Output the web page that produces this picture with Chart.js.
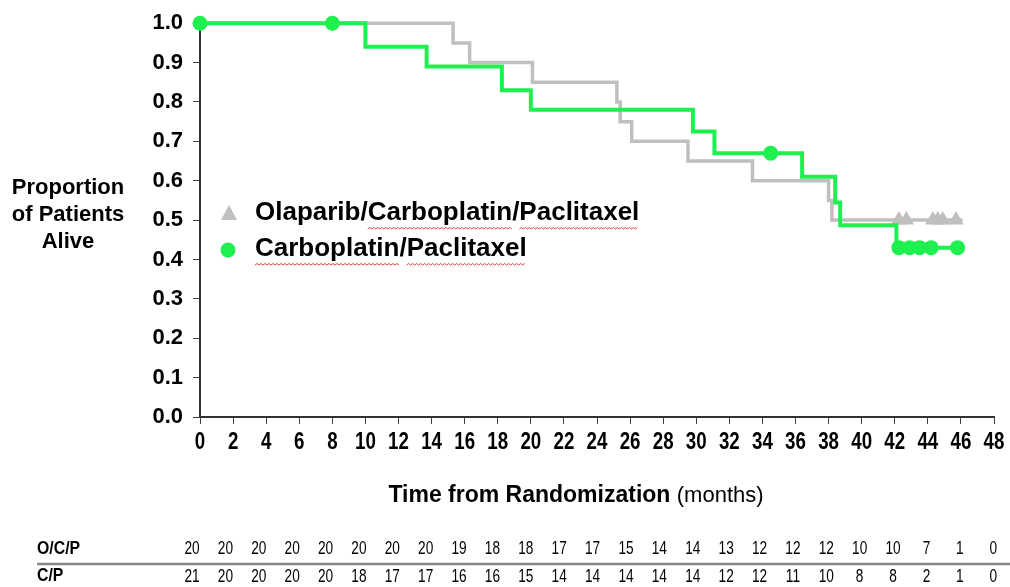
<!DOCTYPE html>
<html>
<head>
<meta charset="utf-8">
<script src="https://cdn.jsdelivr.net/npm/chart.js@4.4.1/dist/chart.umd.min.js"></script>
<style>
  html, body { margin: 0; padding: 0; background: #fff; }
  #km { display: block; }
</style>
</head>
<body>
<canvas id="km" width="1010" height="587"></canvas>
<script>
// Curvas de supervivencia (meses, proporción)
var olapTimes = [0, 15.3, 16.3, 20.1, 25.2, 25.4, 26.1, 29.5, 33.4, 38.0, 38.2, 46.1];
var olapSurv  = [1.0, 0.95, 0.90, 0.85, 0.80, 0.75, 0.70, 0.65, 0.60, 0.55, 0.50, 0.50];
var olapCensTimes = [42.25, 42.7, 44.3, 44.6, 44.9, 45.7];
var olapCensSurv  = [0.50, 0.50, 0.50, 0.50, 0.50, 0.50];

var cpTimes = [0, 10.0, 13.7, 18.25, 20.0, 29.8, 31.1, 36.4, 38.4, 38.7, 42.1, 45.8];
var cpSurv  = [1.0, 0.94, 0.89, 0.83, 0.78, 0.725, 0.67, 0.61, 0.545, 0.487, 0.43, 0.43];
var cpCensTimes = [0, 8.0, 34.5, 42.25, 42.9, 43.5, 44.2, 45.8];
var cpCensSurv  = [1.0, 1.0, 0.67, 0.43, 0.43, 0.43, 0.43, 0.43];

// Pacientes en riesgo cada 2 meses
var riskMonths = [0, 2, 4, 6, 8, 10, 12, 14, 16, 18, 20, 22, 24, 26, 28, 30, 32, 34, 36, 38, 40, 42, 44, 46, 48];
var riskOCP = [20, 20, 20, 20, 20, 20, 20, 20, 19, 18, 18, 17, 17, 15, 14, 14, 13, 12, 12, 12, 10, 10, 7, 1, 0];
var riskCP  = [21, 20, 20, 20, 20, 18, 17, 17, 16, 16, 15, 14, 14, 14, 14, 14, 12, 12, 11, 10, 8, 8, 2, 1, 0];

var legendLabels = ["Olaparib/Carboplatin/Paclitaxel", "Carboplatin/Paclitaxel"];
var yTitleLines = ["Proportion", "of Patients", "Alive"];

var GREEN = "#1EF050";
var GRAY = "#BFBFBF";
var SANS = "Arial, 'Liberation Sans', sans-serif";

function puntos(xs, ys) {
    return xs.map(function (x, i) { return { x: x, y: ys[i] }; });
}

// Texto estrecho: se comprime en horizontal
function textoEstrecho(ctx, text, x, y, sx) {
    ctx.save();
    ctx.translate(x, y);
    ctx.scale(sx, 1);
    ctx.fillText(text, 0, 0);
    ctx.restore();
}

function ondulado(ctx, x1, x2, y) {
    ctx.save();
    ctx.strokeStyle = "#E04040";
    ctx.lineWidth = 1;
    ctx.beginPath();
    ctx.moveTo(x1, y);
    var up = true;
    for (var x = x1 + 2; x <= x2; x += 2) {
        ctx.lineTo(x, up ? y - 1.5 : y);
        up = !up;
    }
    ctx.stroke();
    ctx.restore();
}

// Subraya cada palabra excepto "Olaparib"
function subrayar(ctx, text, x, y) {
    var parts = text.split("/");
    var cx = x;
    var slash = ctx.measureText("/").width;
    parts.forEach(function (p) {
        var w = ctx.measureText(p).width;
        if (p !== "Olaparib") ondulado(ctx, cx, cx + w, y);
        cx += w + slash;
    });
}

var extras = {
    id: "extras",
    afterDraw: function (chart) {
        var ctx = chart.ctx;
        var xs = chart.scales.x;
        ctx.save();
        ctx.fillStyle = "#000";

        // Etiquetas del eje X (estrechas, como en el original)
        ctx.font = "bold 24px " + SANS;
        ctx.textAlign = "center";
        ctx.textBaseline = "middle";
        xs.ticks.forEach(function (t) {
            textoEstrecho(ctx, String(t.value), xs.getPixelForValue(t.value), 442, 0.78);
        });

        // Título del eje Y
        ctx.font = "bold 22px " + SANS;
        yTitleLines.forEach(function (t, i) {
            ctx.fillText(t, 68, 188 + i * 27);
        });

        // Título del eje X
        ctx.textAlign = "left";
        ctx.font = "bold 23px " + SANS;
        var t1 = "Time from Randomization ";
        var w1 = ctx.measureText(t1).width;
        ctx.font = "22px " + SANS;
        var t2 = "(months)";
        var w2 = ctx.measureText(t2).width;
        var sx = 576 - (w1 + w2) / 2;
        ctx.font = "bold 23px " + SANS;
        ctx.fillText(t1, sx, 496);
        ctx.font = "22px " + SANS;
        ctx.fillText(t2, sx + w1, 496);

        // Leyenda dentro del gráfico
        ctx.fillStyle = GRAY;
        ctx.beginPath();
        ctx.moveTo(229, 205);
        ctx.lineTo(237, 220);
        ctx.lineTo(221, 220);
        ctx.closePath();
        ctx.fill();
        ctx.fillStyle = GREEN;
        ctx.beginPath();
        ctx.arc(228, 250, 7.5, 0, Math.PI * 2);
        ctx.fill();
        ctx.fillStyle = "#000";
        ctx.font = "bold 26px " + SANS;
        ctx.textBaseline = "middle";
        ctx.fillText(legendLabels[0], 255, 213);
        ctx.fillText(legendLabels[1], 255, 249);
        subrayar(ctx, legendLabels[0], 255, 229);
        subrayar(ctx, legendLabels[1], 255, 265);

        // Tabla de pacientes en riesgo
        ctx.font = "bold 18px " + SANS;
        ctx.textAlign = "left";
        textoEstrecho(ctx, "O/C/P", 37, 549, 0.88);
        textoEstrecho(ctx, "C/P", 37, 576, 0.88);
        ctx.strokeStyle = "#888";
        ctx.lineWidth = 2.5;
        ctx.beginPath();
        ctx.moveTo(37, 564);
        ctx.lineTo(1010, 564);
        ctx.stroke();
        ctx.font = "19px " + SANS;
        ctx.textAlign = "center";
        riskMonths.forEach(function (m, i) {
            var px = xs.getPixelForValue(m) - 8 + i * 0.3;
            textoEstrecho(ctx, String(riskOCP[i]), px, 549, 0.72);
            textoEstrecho(ctx, String(riskCP[i]), px, 577, 0.72);
        });
        ctx.restore();
    }
};

function cargaGraficoKM() {
    var datos = {
        datasets: [{
            label: legendLabels[1],
            data: puntos(cpCensTimes, cpCensSurv),
            showLine: false,
            pointStyle: "circle",
            pointRadius: 7.5,
            pointBackgroundColor: GREEN,
            pointBorderColor: GREEN,
            pointBorderWidth: 0,
            clip: false,
            order: 0
        }, {
            label: legendLabels[1],
            data: puntos(cpTimes, cpSurv),
            stepped: true,
            borderColor: GREEN,
            borderWidth: 4,
            pointRadius: 0,
            fill: false,
            clip: false,
            order: 1
        }, {
            label: legendLabels[0],
            data: puntos(olapCensTimes, olapCensSurv),
            showLine: false,
            pointStyle: "triangle",
            pointRadius: 9,
            pointBackgroundColor: GRAY,
            pointBorderColor: GRAY,
            pointBorderWidth: 0,
            clip: false,
            order: 2
        }, {
            label: legendLabels[0],
            data: puntos(olapTimes, olapSurv),
            stepped: true,
            borderColor: GRAY,
            borderWidth: 3.5,
            pointRadius: 0,
            fill: false,
            clip: false,
            order: 3
        }]
    };

    var config = {
        type: "line",
        data: datos,
        options: {
            responsive: false,
            animation: false,
            layout: { padding: { top: 18, right: 16, left: 0, bottom: 0 } },
            plugins: {
                legend: { display: false },
                tooltip: { enabled: false }
            },
            scales: {
                x: {
                    type: "linear",
                    min: 0,
                    max: 48,
                    afterFit: function (s) { s.height = 170; },
                    ticks: {
                        stepSize: 2,
                        autoSkip: false,
                        maxRotation: 0,
                        display: false
                    },
                    grid: {
                        drawOnChartArea: false,
                        drawTicks: true,
                        tickLength: 7,
                        color: "#444"
                    },
                    border: { color: "#333", width: 2 }
                },
                y: {
                    min: 0,
                    max: 1,
                    afterFit: function (s) { s.width = 200; },
                    ticks: {
                        stepSize: 0.1,
                        padding: 10,
                        color: "#000",
                        font: { family: SANS, weight: "bold", size: 22 },
                        callback: function (v) { return v.toFixed(1); }
                    },
                    grid: {
                        drawOnChartArea: false,
                        tickLength: 7,
                        color: "#444"
                    },
                    border: { color: "#333", width: 2 }
                }
            }
        },
        plugins: [extras]
    };

    var grafico = document.getElementById("km").getContext("2d");
    new Chart(grafico, config);
}

cargaGraficoKM();
</script>
</body>
</html>
